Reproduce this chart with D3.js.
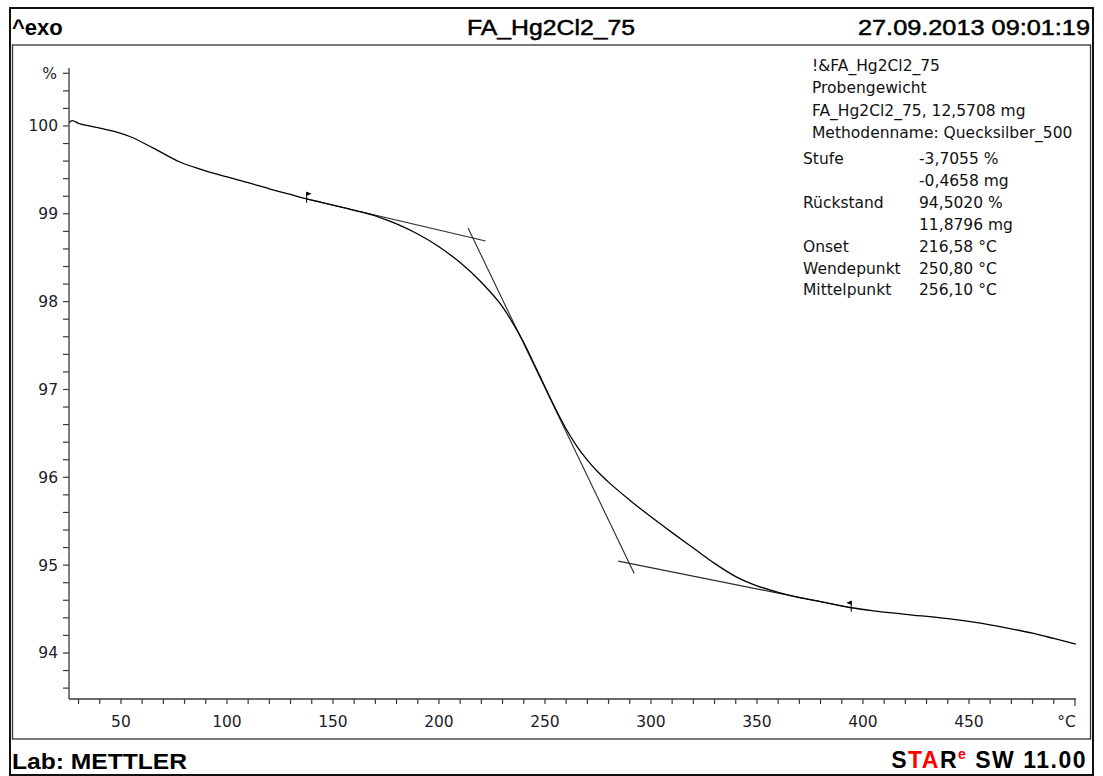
<!DOCTYPE html>
<html>
<head>
<meta charset="utf-8">
<script src="https://cdn.jsdelivr.net/npm/d3@7"></script>
<style>
	body { margin: 0; background: #ffffff; }
	svg { display: block; }
</style>
</head>
<body>
<svg id="chart" width="1103" height="776"></svg>
<script>
/*	Data -----------------------------------------------------------------------*/
var tempC = [25.6, 27.0, 30, 35, 40, 48, 54.2, 65.1, 77.8, 87.3, 100, 110, 120, 130,
	137.6, 145, 155, 165, 172, 180, 190, 200, 210, 220, 230, 235, 240, 245, 250, 255,
	260, 265, 270, 275, 280, 290, 300, 310, 320, 330, 340, 350, 360, 370, 380, 394.5,
	405, 420, 440, 460, 470, 480, 490, 500.4];
var massPct = [100.04, 100.06, 100.03, 100.0, 99.975, 99.93, 99.88, 99.75, 99.59, 99.51, 99.42, 99.355, 99.285, 99.22,
	99.17, 99.128, 99.07, 99.01, 98.96, 98.885, 98.77, 98.625, 98.445, 98.22, 97.94, 97.75, 97.535, 97.285, 97.03, 96.78,
	96.55, 96.355, 96.195, 96.06, 95.945, 95.74, 95.55, 95.37, 95.195, 95.02, 94.87, 94.765, 94.69, 94.63, 94.585, 94.515,
	94.48, 94.44, 94.39, 94.32, 94.275, 94.225, 94.165, 94.10];

/*	Tangent lines: [T1, %1, T2, %2] -------------------------------------------*/
var tangentUpper = [137.6, 99.169, 222.0, 98.69];
var tangentSteep = [213.8, 98.835, 292.1, 94.906];
var tangentLower = [284.6, 95.046, 394.5, 94.514];

/*	Step limit flags: [T, %, direction] ---------------------------------------*/
var flagT = [137.6, 394.5];
var flagPct = [99.17, 94.515];
var flagDir = [1, -1];

/*	Axis ticks -----------------------------------------------------------------*/
var xMajorTicks = [50, 100, 150, 200, 250, 300, 350, 400, 450];
var xUnitTick = 500;
var yMajorTicks = [94, 95, 96, 97, 98, 99, 100];
var yUnitTick = 100.6;

/*	Header, footer and result texts ------------------------------------------*/
var headerLeft = "^exo";
var headerTitle = "FA_Hg2Cl2_75";
var headerDate = "27.09.2013 09:01:19";
var footerLab = "Lab: METTLER";
var infoHead = ["!&FA_Hg2Cl2_75", "Probengewicht", "FA_Hg2Cl2_75, 12,5708 mg", "Methodenname: Quecksilber_500"];
var resultNames = ["Stufe", "", "Rückstand", "", "Onset", "Wendepunkt", "Mittelpunkt"];
var resultValues = ["-3,7055 %", "-0,4658 mg", "94,5020 %", "11,8796 mg", "216,58 °C", "250,80 °C", "256,10 °C"];

/*	Layout ---------------------------------------------------------------------*/
var svg = d3.select("#chart");
var frame = { left: 10, top: 8, right: 1093, bottom: 775, header: 45, footer: 739 };
var plot = { left: 69, right: 1076, top: 68, bottom: 699 };

var xScale = d3.scaleLinear().domain([25.5, 500.5]).range([plot.left, plot.right]);
var yScale = d3.scaleLinear().domain([93.476, 100.66]).range([plot.bottom, plot.top]);

/*	Frames ---------------------------------------------------------------------*/
svg.append("rect")
	.attr("x", frame.left).attr("y", frame.top)
	.attr("width", frame.right - frame.left)
	.attr("height", frame.bottom - frame.top)
	.style("fill", "none").style("stroke", "#111").style("stroke-width", 2);
svg.append("rect")
	.attr("x", 12.5).attr("y", frame.header)
	.attr("width", 1090.5 - 12.5)
	.attr("height", frame.footer - frame.header)
	.style("fill", "none").style("stroke", "#333").style("stroke-width", 1.3);

/*	Header texts ---------------------------------------------------------------*/
var headFont = "'Liberation Sans', Arial, sans-serif";
svg.append("text")
	.attr("x", 12).attr("y", 35)
	.style("font-family", headFont).style("font-size", "22px").style("font-weight", "bold")
	.text(headerLeft);
svg.append("text")
	.attr("x", 551).attr("y", 35)
	.attr("text-anchor", "middle")
	.attr("textLength", 168).attr("lengthAdjust", "spacingAndGlyphs")
	.style("font-family", headFont).style("font-size", "22px")
	.style("stroke", "#000").style("stroke-width", 0.5)
	.text(headerTitle);
svg.append("text")
	.attr("x", 1090).attr("y", 35)
	.attr("text-anchor", "end")
	.attr("textLength", 232).attr("lengthAdjust", "spacingAndGlyphs")
	.style("font-family", headFont).style("font-size", "22px")
	.style("stroke", "#000").style("stroke-width", 0.5)
	.text(headerDate);

/*	Footer texts ---------------------------------------------------------------*/
svg.append("text")
	.attr("x", 12).attr("y", 769)
	.attr("textLength", 175).attr("lengthAdjust", "spacingAndGlyphs")
	.style("font-family", headFont).style("font-size", "22px").style("font-weight", "bold")
	.text(footerLab);
var star = svg.append("text")
	.attr("x", 1087).attr("y", 768)
	.attr("text-anchor", "end")
	.style("letter-spacing", "1.5px")
	.style("font-family", headFont).style("font-size", "23px").style("font-weight", "bold");
star.append("tspan").style("fill", "#000").text("S");
star.append("tspan").style("fill", "#ff0000").text("TA");
star.append("tspan").style("fill", "#000").text("R");
star.append("tspan").style("fill", "#ff0000").style("font-size", "14px").attr("dy", -9).text("e");
star.append("tspan").style("fill", "#000").attr("dy", 9).text(" SW 11.00");

/*	Axes -----------------------------------------------------------------------*/
var tickFont = "'DejaVu Sans', Verdana, sans-serif";
var axisColor = "#3a3a3a";
var xTicks = d3.range(30, 501, 10);
var yTicks = d3.range(93.6, 100.61, 0.2);

var xAxis = svg.append("g").attr("id", "xAxis");
xAxis.append("line")
	.attr("x1", plot.left).attr("x2", plot.right)
	.attr("y1", plot.bottom).attr("y2", plot.bottom)
	.style("stroke", axisColor).style("stroke-width", 1.3);
xAxis.selectAll("line.tick").data(xTicks).enter()
	.append("line").attr("class", "tick")
	.attr("x1", function(d) { return xScale(d); })
	.attr("x2", function(d) { return xScale(d); })
	.attr("y1", plot.bottom)
	.attr("y2", function(d) { return d === xUnitTick ? plot.bottom + 7 : plot.bottom + 5; })
	.style("stroke", axisColor).style("stroke-width", 1.2);
xAxis.selectAll("text.lab").data(xMajorTicks).enter()
	.append("text").attr("class", "lab")
	.attr("x", function(d) { return xScale(d); })
	.attr("y", 727)
	.attr("text-anchor", "middle")
	.style("font-family", tickFont).style("font-size", "15.5px").style("fill", "#1c1c2a")
	.text(function(d) { return d; });
xAxis.append("text")
	.attr("x", xScale(xUnitTick) + 1).attr("y", 727)
	.attr("text-anchor", "end")
	.style("font-family", tickFont).style("font-size", "15.5px").style("fill", "#1c1c2a")
	.text("°C");

var yAxis = svg.append("g").attr("id", "yAxis");
yAxis.append("line")
	.attr("x1", plot.left).attr("x2", plot.left)
	.attr("y1", plot.top).attr("y2", plot.bottom)
	.style("stroke", axisColor).style("stroke-width", 1.3);
yAxis.selectAll("line.tick").data(yTicks).enter()
	.append("line").attr("class", "tick")
	.attr("x1", plot.left - 6).attr("x2", plot.left)
	.attr("y1", function(d) { return yScale(d); })
	.attr("y2", function(d) { return yScale(d); })
	.style("stroke", axisColor).style("stroke-width", 1.2);
yAxis.selectAll("text.lab").data(yMajorTicks).enter()
	.append("text").attr("class", "lab")
	.attr("x", 58)
	.attr("y", function(d) { return yScale(d) + 5.5; })
	.attr("text-anchor", "end")
	.style("font-family", tickFont).style("font-size", "15.5px").style("fill", "#1c1c2a")
	.text(function(d) { return d; });
yAxis.append("text")
	.attr("x", 57).attr("y", yScale(yUnitTick) + 5.5)
	.attr("text-anchor", "end")
	.style("font-family", tickFont).style("font-size", "15.5px").style("fill", "#1c1c2a")
	.text("%");

/*	Tangents -------------------------------------------------------------------*/
[tangentUpper, tangentSteep, tangentLower].forEach(function(t) {
	svg.append("line")
		.attr("class", "tangent")
		.attr("x1", xScale(t[0])).attr("y1", yScale(t[1]))
		.attr("x2", xScale(t[2])).attr("y2", yScale(t[3]))
		.style("stroke", "#2a2a2a").style("stroke-width", 1.1);
});

/*	TG curve -------------------------------------------------------------------*/
var curveData = tempC.map(function(t, i) { return [t, massPct[i]]; });
var line = d3.line()
	.x(function(d) { return xScale(d[0]); })
	.y(function(d) { return yScale(d[1]); })
	.curve(d3.curveMonotoneX);
svg.append("path")
	.datum(curveData)
	.attr("d", line)
	.style("fill", "none").style("stroke", "#000").style("stroke-width", 1.3);

/*	Limit flags ----------------------------------------------------------------*/
flagT.forEach(function(t, i) {
	var fx = xScale(t), fy = yScale(flagPct[i]);
	var dir = flagDir[i];
	svg.append("line")
		.attr("x1", fx).attr("x2", fx)
		.attr("y1", fy - 7).attr("y2", fy + 4)
		.style("stroke", "#000").style("stroke-width", 1);
	svg.append("path")
		.attr("d", "M" + fx + "," + (fy - 7) + "L" + (fx + dir * 5) + "," + (fy - 5) + "L" + fx + "," + (fy - 3) + "Z")
		.style("fill", "#000");
});

/*	Result text block ----------------------------------------------------------*/
var infoFont = "'DejaVu Sans', Verdana, sans-serif";
svg.selectAll("text.infoHead").data(infoHead).enter()
	.append("text").attr("class", "infoHead")
	.attr("x", 812)
	.attr("y", function(d, i) { return 71 + i * 22.4; })
	.style("font-family", infoFont).style("font-size", "15.5px").style("fill", "#111")
	.text(function(d) { return d; });
svg.selectAll("text.resName").data(resultNames).enter()
	.append("text").attr("class", "resName")
	.attr("x", 803)
	.attr("y", function(d, i) { return 164 + i * 21.9; })
	.style("font-family", infoFont).style("font-size", "15.5px").style("fill", "#111")
	.text(function(d) { return d; });
svg.selectAll("text.resVal").data(resultValues).enter()
	.append("text").attr("class", "resVal")
	.attr("x", 919)
	.attr("y", function(d, i) { return 164 + i * 21.9; })
	.style("font-family", infoFont).style("font-size", "15.5px").style("fill", "#111")
	.text(function(d) { return d; });
</script>
</body>
</html>
